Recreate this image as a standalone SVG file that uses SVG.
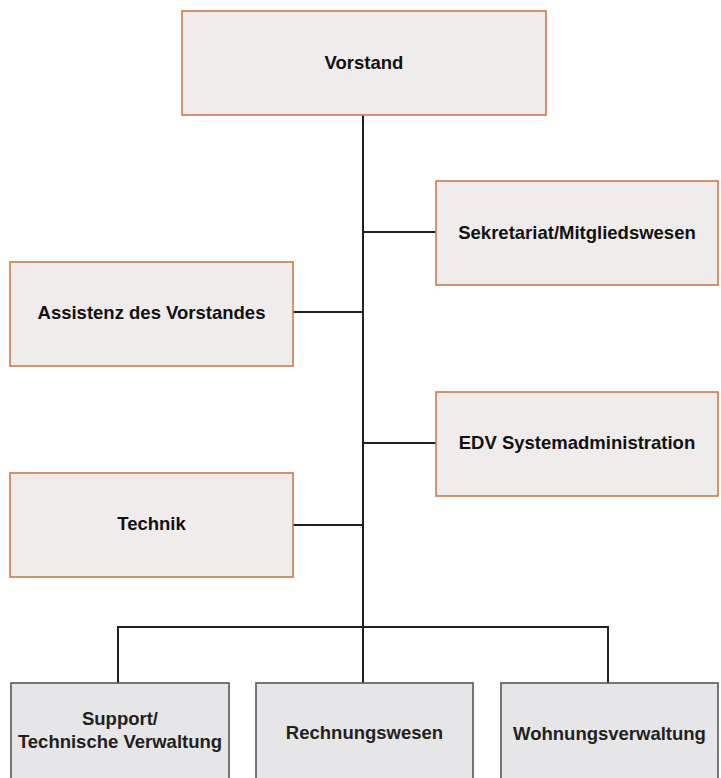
<svg xmlns="http://www.w3.org/2000/svg" width="721" height="778" viewBox="0 0 721 778">
<style>
.o{fill:#f0ecec;stroke:#c97b4e;stroke-width:1.6}
.g{fill:#e6e6e8;stroke:#58585a;stroke-width:1.6}
.t{font-family:"Liberation Sans",Arial,sans-serif;font-weight:bold;font-size:18.5px;text-anchor:middle;fill:#111}
.tg{fill:#231f20}
.c{stroke:#231f20;stroke-width:2;fill:none}
</style>
<rect width="721" height="778" fill="#fff"/>
<g id="connectors">
<line class="c" x1="363" y1="115" x2="363" y2="683"/>
<line class="c" x1="363" y1="232" x2="436" y2="232"/>
<line class="c" x1="293" y1="312" x2="363" y2="312"/>
<line class="c" x1="363" y1="443" x2="436" y2="443"/>
<line class="c" x1="293" y1="525" x2="363" y2="525"/>
<polyline class="c" points="118,683 118,627 608,627 608,683"/>
</g>
<g id="vorstand"><rect class="o" x="182" y="11" width="364" height="104"/><text class="t" x="364" y="69">Vorstand</text></g>
<g id="sekretariat"><rect class="o" x="436" y="181" width="282" height="104"/><text class="t" x="577" y="239">Sekretariat/Mitgliedswesen</text></g>
<g id="assistenz"><rect class="o" x="10" y="262" width="283" height="104"/><text class="t" x="151.5" y="319">Assistenz des Vorstandes</text></g>
<g id="edv"><rect class="o" x="436" y="392" width="282" height="104"/><text class="t" x="577" y="449">EDV Systemadministration</text></g>
<g id="technik"><rect class="o" x="10" y="473" width="283" height="104"/><text class="t" x="151.5" y="530">Technik</text></g>
<g id="support"><rect class="g" x="11" y="683" width="218" height="110"/><text class="t tg" x="120" y="725">Support/</text><text class="t tg" x="120" y="748">Technische Verwaltung</text></g>
<g id="rechnungswesen"><rect class="g" x="256" y="683" width="217" height="110"/><text class="t tg" x="364.5" y="739">Rechnungswesen</text></g>
<g id="wohnungsverwaltung"><rect class="g" x="501" y="683" width="217" height="110"/><text class="t tg" x="609.5" y="740">Wohnungsverwaltung</text></g>
</svg>
